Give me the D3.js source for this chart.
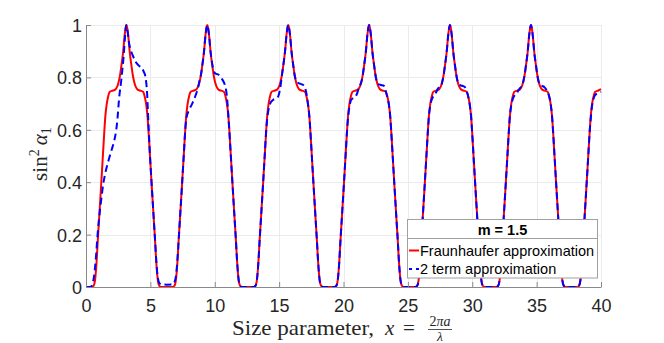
<!DOCTYPE html>
<html>
<head>
<meta charset="utf-8">
<script src="https://cdn.jsdelivr.net/npm/d3@7"></script>
<style>
  body { margin: 0; background: #fff; }
  #graph { width: 664px; height: 343px; }
</style>
</head>
<body>
<div id="graph"></div>
<script>
// values, one line per 2*pi period

var xTicks = [0, 5, 10, 15, 20, 25, 30, 35, 40];
var yTicks = [0, 0.2, 0.4, 0.6, 0.8, 1];
var yTickLabels = ['0', '0.2', '0.4', '0.6', '0.8', '1'];

var fraunX = [
  0, 0.45, 0.60, 0.70, 0.80, 0.93, 1.03, 1.19, 1.31, 1.43, 1.50, 1.60, 1.70, 1.85, 2.10, 2.30, 2.45, 2.55, 2.65, 2.75, 2.88, 3.00, 3.08, 3.14, 3.20, 3.28, 3.40, 3.53, 3.63, 3.73, 3.83, 3.98, 4.18, 4.43, 4.58, 4.68, 4.78, 4.85, 4.97, 5.09, 5.25, 5.35, 5.48, 5.58, 5.68, 5.83,
  6.28, 6.73, 6.88, 6.98, 7.08, 7.21, 7.31, 7.47, 7.59, 7.71, 7.78, 7.88, 7.98, 8.13, 8.38, 8.58, 8.73, 8.83, 8.93, 9.03, 9.16, 9.28, 9.36, 9.42, 9.48, 9.56, 9.68, 9.81, 9.91, 10.01, 10.11, 10.26, 10.46, 10.71, 10.86, 10.96, 11.06, 11.13, 11.25, 11.37, 11.53, 11.63, 11.76, 11.86, 11.96, 12.11,
  12.57, 13.02, 13.17, 13.27, 13.37, 13.50, 13.60, 13.76, 13.88, 14.00, 14.07, 14.17, 14.27, 14.42, 14.67, 14.87, 15.02, 15.12, 15.22, 15.32, 15.45, 15.57, 15.65, 15.71, 15.77, 15.85, 15.97, 16.10, 16.20, 16.30, 16.40, 16.55, 16.75, 17.00, 17.15, 17.25, 17.35, 17.42, 17.54, 17.66, 17.82, 17.92, 18.05, 18.15, 18.25, 18.40,
  18.85, 19.30, 19.45, 19.55, 19.65, 19.78, 19.88, 20.04, 20.16, 20.28, 20.35, 20.45, 20.55, 20.70, 20.95, 21.15, 21.30, 21.40, 21.50, 21.60, 21.73, 21.85, 21.93, 21.99, 22.05, 22.13, 22.25, 22.38, 22.48, 22.58, 22.68, 22.83, 23.03, 23.28, 23.43, 23.53, 23.63, 23.70, 23.82, 23.94, 24.10, 24.20, 24.33, 24.43, 24.53, 24.68,
  25.13, 25.58, 25.73, 25.83, 25.93, 26.06, 26.16, 26.32, 26.44, 26.56, 26.63, 26.73, 26.83, 26.98, 27.23, 27.43, 27.58, 27.68, 27.78, 27.88, 28.01, 28.13, 28.21, 28.27, 28.33, 28.41, 28.53, 28.66, 28.76, 28.86, 28.96, 29.11, 29.31, 29.56, 29.71, 29.81, 29.91, 29.98, 30.10, 30.22, 30.38, 30.48, 30.61, 30.71, 30.81, 30.96,
  31.42, 31.87, 32.02, 32.12, 32.22, 32.35, 32.45, 32.61, 32.73, 32.85, 32.92, 33.02, 33.12, 33.27, 33.52, 33.72, 33.87, 33.97, 34.07, 34.17, 34.30, 34.42, 34.50, 34.56, 34.62, 34.70, 34.82, 34.95, 35.05, 35.15, 35.25, 35.40, 35.60, 35.85, 36.00, 36.10, 36.20, 36.27, 36.39, 36.51, 36.67, 36.77, 36.90, 37.00, 37.10, 37.25,
  37.70, 38.15, 38.30, 38.40, 38.50, 38.63, 38.73, 38.89, 39.01, 39.13, 39.20, 39.30, 39.40, 39.55, 39.80, 40.00
];
var fraunY = [
  0, 0, 0.005, 0.025, 0.08, 0.19, 0.27, 0.40, 0.50, 0.60, 0.65, 0.695, 0.722, 0.745, 0.75, 0.755, 0.768, 0.785, 0.81, 0.845, 0.895, 0.96, 0.99, 1, 0.99, 0.96, 0.895, 0.845, 0.81, 0.785, 0.768, 0.755, 0.75, 0.745, 0.722, 0.695, 0.65, 0.60, 0.50, 0.40, 0.27, 0.19, 0.08, 0.025, 0.005, 0,
  0, 0, 0.005, 0.025, 0.08, 0.19, 0.27, 0.40, 0.50, 0.60, 0.65, 0.695, 0.722, 0.745, 0.75, 0.755, 0.768, 0.785, 0.81, 0.845, 0.895, 0.96, 0.99, 1, 0.99, 0.96, 0.895, 0.845, 0.81, 0.785, 0.768, 0.755, 0.75, 0.745, 0.722, 0.695, 0.65, 0.60, 0.50, 0.40, 0.27, 0.19, 0.08, 0.025, 0.005, 0,
  0, 0, 0.005, 0.025, 0.08, 0.19, 0.27, 0.40, 0.50, 0.60, 0.65, 0.695, 0.722, 0.745, 0.75, 0.755, 0.768, 0.785, 0.81, 0.845, 0.895, 0.96, 0.99, 1, 0.99, 0.96, 0.895, 0.845, 0.81, 0.785, 0.768, 0.755, 0.75, 0.745, 0.722, 0.695, 0.65, 0.60, 0.50, 0.40, 0.27, 0.19, 0.08, 0.025, 0.005, 0,
  0, 0, 0.005, 0.025, 0.08, 0.19, 0.27, 0.40, 0.50, 0.60, 0.65, 0.695, 0.722, 0.745, 0.75, 0.755, 0.768, 0.785, 0.81, 0.845, 0.895, 0.96, 0.99, 1, 0.99, 0.96, 0.895, 0.845, 0.81, 0.785, 0.768, 0.755, 0.75, 0.745, 0.722, 0.695, 0.65, 0.60, 0.50, 0.40, 0.27, 0.19, 0.08, 0.025, 0.005, 0,
  0, 0, 0.005, 0.025, 0.08, 0.19, 0.27, 0.40, 0.50, 0.60, 0.65, 0.695, 0.722, 0.745, 0.75, 0.755, 0.768, 0.785, 0.81, 0.845, 0.895, 0.96, 0.99, 1, 0.99, 0.96, 0.895, 0.845, 0.81, 0.785, 0.768, 0.755, 0.75, 0.745, 0.722, 0.695, 0.65, 0.60, 0.50, 0.40, 0.27, 0.19, 0.08, 0.025, 0.005, 0,
  0, 0, 0.005, 0.025, 0.08, 0.19, 0.27, 0.40, 0.50, 0.60, 0.65, 0.695, 0.722, 0.745, 0.75, 0.755, 0.768, 0.785, 0.81, 0.845, 0.895, 0.96, 0.99, 1, 0.99, 0.96, 0.895, 0.845, 0.81, 0.785, 0.768, 0.755, 0.75, 0.745, 0.722, 0.695, 0.65, 0.60, 0.50, 0.40, 0.27, 0.19, 0.08, 0.025, 0.005, 0,
  0, 0, 0.005, 0.025, 0.08, 0.19, 0.27, 0.40, 0.50, 0.60, 0.65, 0.695, 0.722, 0.745, 0.75, 0.755
];

var twoTermX = [
  0, 0.35, 0.50, 0.62, 0.75, 0.90, 1.00, 1.10, 1.20, 1.33, 1.50, 1.76, 2.00, 2.20, 2.35, 2.45, 2.56, 2.74, 2.93, 3.04, 3.12, 3.20, 3.35, 3.50, 3.62, 3.85, 4.10, 4.35, 4.50, 4.61, 4.68, 4.74, 4.80, 4.87, 4.97, 5.09, 5.25, 5.35, 5.48, 5.58, 5.70, 5.85,
  6.28, 6.75, 6.88, 6.98, 7.08, 7.21, 7.31, 7.47, 7.59, 7.71, 7.80, 8.00, 8.25, 8.50, 8.70, 8.85, 8.93, 9.03, 9.16, 9.28, 9.36, 9.42, 9.48, 9.56, 9.68, 9.81, 9.91, 10.05, 10.30, 10.55, 10.72, 10.85, 10.96, 11.06, 11.13, 11.25, 11.37, 11.53, 11.63, 11.76, 11.86, 11.96, 12.11,
  12.57, 13.02, 13.17, 13.27, 13.37, 13.50, 13.60, 13.76, 13.88, 14.00, 14.07, 14.17, 14.30, 14.55, 14.80, 14.95, 15.05, 15.12, 15.22, 15.32, 15.45, 15.57, 15.65, 15.71, 15.77, 15.85, 15.97, 16.10, 16.20, 16.30, 16.45, 16.62, 16.90, 17.05, 17.15, 17.25, 17.35, 17.42, 17.54, 17.66, 17.82, 17.92, 18.05, 18.15, 18.25, 18.40,
  18.85, 19.30, 19.45, 19.55, 19.65, 19.78, 19.88, 20.04, 20.16, 20.28, 20.37, 20.47, 20.60, 20.80, 20.95, 21.10, 21.22, 21.30, 21.40, 21.50, 21.60, 21.73, 21.85, 21.93, 21.99, 22.05, 22.13, 22.25, 22.38, 22.48, 22.58, 22.70, 22.90, 23.10, 23.22, 23.32, 23.43, 23.53, 23.63, 23.70, 23.82, 23.94, 24.10, 24.20, 24.33, 24.43, 24.53, 24.68,
  25.13, 25.58, 25.73, 25.83, 25.93, 26.06, 26.16, 26.32, 26.44, 26.56, 26.63, 26.73, 26.85, 27.00, 27.15, 27.30, 27.43, 27.58, 27.68, 27.78, 27.88, 28.01, 28.13, 28.21, 28.27, 28.33, 28.41, 28.53, 28.66, 28.76, 28.86, 29.00, 29.20, 29.40, 29.56, 29.71, 29.81, 29.91, 29.98, 30.10, 30.22, 30.38, 30.48, 30.61, 30.71, 30.81, 30.96,
  31.42, 31.87, 32.02, 32.12, 32.22, 32.35, 32.45, 32.61, 32.73, 32.85, 32.92, 33.02, 33.15, 33.30, 33.45, 33.60, 33.72, 33.87, 33.97, 34.07, 34.17, 34.30, 34.42, 34.50, 34.56, 34.62, 34.70, 34.82, 34.95, 35.05, 35.15, 35.30, 35.45, 35.62, 35.85, 36.00, 36.10, 36.20, 36.27, 36.39, 36.51, 36.67, 36.77, 36.90, 37.00, 37.10, 37.25,
  37.70, 38.15, 38.30, 38.40, 38.50, 38.63, 38.73, 38.89, 39.01, 39.13, 39.20, 39.30, 39.40, 39.55, 39.80, 40.00
];
var twoTermY = [
  0, 0, 0.012, 0.04, 0.10, 0.20, 0.255, 0.30, 0.34, 0.39, 0.435, 0.485, 0.525, 0.56, 0.60, 0.645, 0.714, 0.79, 0.885, 0.96, 1, 0.985, 0.93, 0.90, 0.885, 0.86, 0.845, 0.835, 0.82, 0.805, 0.78, 0.745, 0.68, 0.60, 0.50, 0.40, 0.27, 0.19, 0.085, 0.035, 0.015, 0.01,
  0.009, 0.01, 0.02, 0.04, 0.09, 0.19, 0.27, 0.40, 0.50, 0.60, 0.645, 0.675, 0.70, 0.73, 0.76, 0.795, 0.81, 0.845, 0.895, 0.96, 0.99, 1, 0.99, 0.96, 0.895, 0.85, 0.825, 0.815, 0.81, 0.795, 0.78, 0.76, 0.72, 0.65, 0.60, 0.50, 0.40, 0.27, 0.19, 0.08, 0.025, 0.005, 0,
  0, 0, 0.005, 0.025, 0.08, 0.19, 0.27, 0.40, 0.50, 0.60, 0.64, 0.675, 0.70, 0.715, 0.72, 0.73, 0.75, 0.77, 0.81, 0.845, 0.895, 0.96, 0.99, 1, 0.99, 0.96, 0.895, 0.845, 0.81, 0.79, 0.78, 0.776, 0.77, 0.755, 0.73, 0.695, 0.65, 0.60, 0.50, 0.40, 0.27, 0.19, 0.08, 0.025, 0.005, 0,
  0, 0, 0.005, 0.025, 0.08, 0.19, 0.27, 0.40, 0.50, 0.60, 0.655, 0.69, 0.715, 0.722, 0.728, 0.745, 0.765, 0.772, 0.785, 0.81, 0.845, 0.895, 0.96, 0.99, 1, 0.99, 0.96, 0.895, 0.845, 0.81, 0.785, 0.775, 0.771, 0.769, 0.76, 0.74, 0.72, 0.695, 0.65, 0.60, 0.50, 0.40, 0.27, 0.19, 0.08, 0.025, 0.005, 0,
  0, 0, 0.005, 0.025, 0.08, 0.19, 0.27, 0.40, 0.50, 0.60, 0.65, 0.69, 0.715, 0.73, 0.738, 0.755, 0.762, 0.768, 0.785, 0.81, 0.845, 0.895, 0.96, 0.99, 1, 0.99, 0.96, 0.895, 0.845, 0.81, 0.785, 0.772, 0.768, 0.764, 0.748, 0.722, 0.695, 0.65, 0.60, 0.50, 0.40, 0.27, 0.19, 0.08, 0.025, 0.005, 0,
  0, 0, 0.005, 0.025, 0.08, 0.19, 0.27, 0.40, 0.50, 0.60, 0.65, 0.69, 0.718, 0.732, 0.738, 0.752, 0.76, 0.768, 0.785, 0.81, 0.845, 0.895, 0.96, 0.99, 1, 0.99, 0.96, 0.895, 0.845, 0.81, 0.785, 0.77, 0.767, 0.762, 0.745, 0.722, 0.695, 0.65, 0.60, 0.50, 0.40, 0.27, 0.19, 0.08, 0.025, 0.005, 0,
  0, 0, 0.005, 0.025, 0.08, 0.19, 0.27, 0.40, 0.50, 0.60, 0.64, 0.69, 0.715, 0.733, 0.74, 0.745
];

var legendTitle = 'm = 1.5';
var legendItems = [
  { color: '#ff0000', dash: null, text: 'Fraunhaufer approximation' },
  { color: '#0000ff', dash: '3,4,3', text: '2 term approximation' }
];

if (fraunX.length !== fraunY.length || twoTermX.length !== twoTermY.length) {
  console.warn('length mismatch', fraunX.length, fraunY.length, twoTermX.length, twoTermY.length);
}

var w = 664;
var h = 343;
// plot box edges (note: "top" is taken by window.top, so prefix these)
var padLeft = 86, padRight = 601, padTop = 25, padBottom = 287;

var svg = d3
  .select('#graph')
  .append('svg')
  .attr('width', w)
  .attr('height', h)
  .style('background', '#fff');

var xscale = d3.scaleLinear().domain([0, 40]).range([padLeft, padRight]);
var yscale = d3.scaleLinear().domain([0, 1]).range([padBottom, padTop]);

// grid
svg.append('g')
  .selectAll('line')
  .data(xTicks.slice(1))
  .enter()
  .append('line')
  .attr('x1', function(d) { return Math.round(xscale(d)) + 0.5; })
  .attr('x2', function(d) { return Math.round(xscale(d)) + 0.5; })
  .attr('y1', padTop)
  .attr('y2', padBottom)
  .attr('stroke', '#ebebeb');

svg.append('g')
  .selectAll('line')
  .data(yTicks.slice(1))
  .enter()
  .append('line')
  .attr('x1', padLeft)
  .attr('x2', padRight)
  .attr('y1', function(d) { return Math.round(yscale(d)) + 0.5; })
  .attr('y2', function(d) { return Math.round(yscale(d)) + 0.5; })
  .attr('stroke', '#ebebeb');

// curves
var line = d3.line()
  .x(function(d) { return xscale(d[0]); })
  .y(function(d) { return yscale(d[1]); })
  .curve(d3.curveMonotoneX);

svg.append('path')
  .datum(d3.zip(fraunX, fraunY))
  .attr('d', line)
  .attr('fill', 'none')
  .attr('stroke', '#ff0000')
  .attr('stroke-width', 2);

svg.append('path')
  .datum(d3.zip(twoTermX, twoTermY))
  .attr('d', line)
  .attr('fill', 'none')
  .attr('stroke', '#0000ff')
  .attr('stroke-width', 2)
  .attr('stroke-dasharray', '7,4');

// axes, ticks pointing inwards
var x_axis = d3.axisBottom(xscale)
  .tickValues(xTicks)
  .tickFormat(d3.format('d'))
  .tickSizeInner(-5)
  .tickSizeOuter(0)
  .tickPadding(12);

var y_axis = d3.axisLeft(yscale)
  .tickValues(yTicks)
  .tickFormat(function(d, i) { return yTickLabels[i]; })
  .tickSizeInner(-5)
  .tickSizeOuter(0)
  .tickPadding(4);

var gx = svg.append('g')
  .attr('transform', 'translate(0,' + padBottom + ')')
  .call(x_axis);
var gy = svg.append('g')
  .attr('transform', 'translate(' + padLeft + ',0)')
  .call(y_axis);

[gx, gy].forEach(function(g) {
  g.attr('font-size', 18).attr('font-family', '"Liberation Sans", Arial, sans-serif');
  g.select('.domain').attr('stroke', '#8a8a8a');
  g.selectAll('.tick line').attr('stroke', '#8a8a8a');
  g.selectAll('.tick text').attr('fill', '#262626');
});
gy.selectAll('.tick text').attr('dy', '0.36em');

// x label (latex style), stretched a bit since Liberation Serif is narrower than CM
var serif = '"Liberation Serif", "DejaVu Serif", serif';
var xl = svg.append('g').attr('font-family', serif).attr('fill', '#262626');
xl.append('text')
  .attr('x', 232)
  .attr('y', 335)
  .attr('font-size', 21.5)
  .attr('textLength', 142)
  .attr('lengthAdjust', 'spacingAndGlyphs')
  .text('Size parameter,');
xl.append('text')
  .attr('x', 385)
  .attr('y', 335)
  .attr('font-size', 21)
  .attr('font-style', 'italic')
  .text('x');
xl.append('text')
  .attr('x', 403)
  .attr('y', 335)
  .attr('font-size', 21)
  .text('=');
var num = xl.append('text')
  .attr('x', 440)
  .attr('y', 326)
  .attr('font-size', 14)
  .attr('text-anchor', 'middle');
num.append('tspan').text('2');
num.append('tspan').attr('font-style', 'italic').text('πa');
xl.append('line')
  .attr('x1', 428)
  .attr('x2', 452)
  .attr('y1', 329.5)
  .attr('y2', 329.5)
  .attr('stroke', '#262626')
  .attr('stroke-width', 0.8);
xl.append('text')
  .attr('x', 440)
  .attr('y', 340.5)
  .attr('font-size', 13.5)
  .attr('font-style', 'italic')
  .attr('text-anchor', 'middle')
  .text('λ');

// y label
var yl = svg.append('text')
  .attr('transform', 'translate(47,154) rotate(-90)')
  .attr('text-anchor', 'middle')
  .attr('font-family', serif)
  .attr('font-size', 21)
  .attr('fill', '#262626');
yl.append('tspan').text('sin');
yl.append('tspan').attr('font-size', 14).attr('dy', -8).text('2');
yl.append('tspan').attr('dy', 8).text('\u2009');
yl.append('tspan').attr('font-style', 'italic').text('α');
yl.append('tspan').attr('font-size', 14).attr('dy', 4).text('1');

// legend
var legend = svg.append('g')
  .attr('font-family', '"Liberation Sans", Arial, sans-serif')
  .attr('font-size', 14.5);

legend.append('rect')
  .attr('x', 407.5)
  .attr('y', 219.5)
  .attr('width', 190)
  .attr('height', 58.5)
  .attr('fill', '#fff')
  .attr('stroke', '#a0a0a0');

legend.append('line')
  .attr('x1', 407.5)
  .attr('x2', 597.5)
  .attr('y1', 238.5)
  .attr('y2', 238.5)
  .attr('stroke', '#a0a0a0');

legend.append('text')
  .attr('x', 502.5)
  .attr('y', 235)
  .attr('text-anchor', 'middle')
  .attr('font-weight', 'bold')
  .attr('fill', '#000')
  .text(legendTitle);

legend.selectAll('.sample')
  .data(legendItems)
  .enter()
  .append('line')
  .attr('class', 'sample')
  .attr('x1', 409)
  .attr('x2', 419)
  .attr('y1', function(d, i) { return 250.5 + i * 18.5; })
  .attr('y2', function(d, i) { return 250.5 + i * 18.5; })
  .attr('stroke', function(d) { return d.color; })
  .attr('stroke-width', 2)
  .attr('stroke-dasharray', function(d) { return d.dash; });

legend.selectAll('.label')
  .data(legendItems)
  .enter()
  .append('text')
  .attr('class', 'label')
  .attr('x', 420)
  .attr('y', function(d, i) { return 255.5 + i * 18.5; })
  .attr('fill', '#000')
  .text(function(d) { return d.text; });
</script>
</body>
</html>
